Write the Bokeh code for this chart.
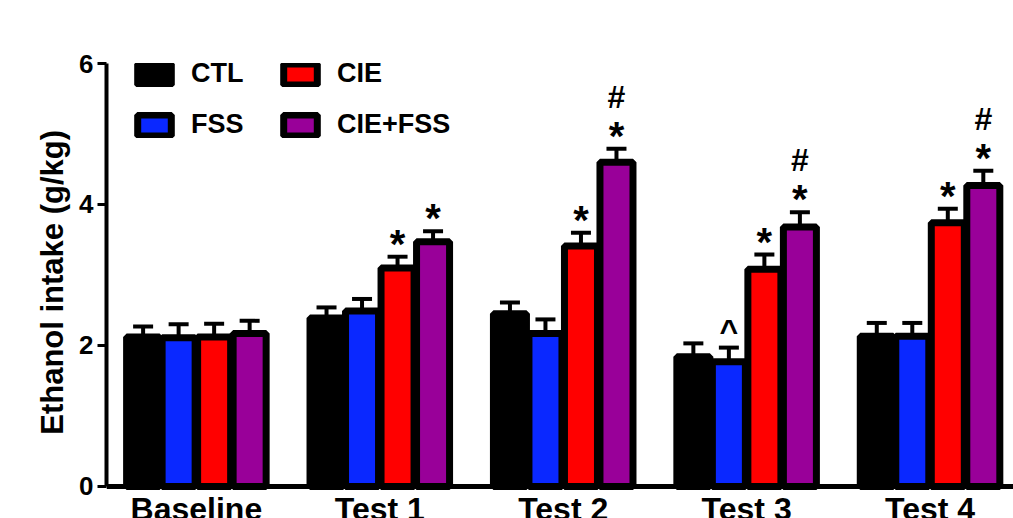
from bokeh.plotting import figure
from bokeh.models import Range1d, FixedTicker, Legend, LegendItem, ColumnDataSource, Span
from bokeh.core.properties import value
from bokeh.embed import file_html
from bokeh.resources import INLINE

# ---------------- data ----------------
categories = ["Baseline", "Test 1", "Test 2", "Test 3", "Test 4"]
series = ["CTL", "FSS", "CIE", "CIE+FSS"]
colors = ["#000000", "#0a28ff", "#ff0000", "#990099"]

ctl = [2.12, 2.39, 2.45, 1.84, 2.13]
fss = [2.11, 2.49, 2.17, 1.77, 2.13]
cie = [2.12, 3.10, 3.41, 3.08, 3.74]
cie_fss = [2.17, 3.47, 4.60, 3.68, 4.27]

ctl_err = [0.15, 0.15, 0.16, 0.19, 0.19]
fss_err = [0.19, 0.17, 0.20, 0.20, 0.19]
cie_err = [0.19, 0.16, 0.19, 0.21, 0.20]
cie_fss_err = [0.18, 0.15, 0.19, 0.21, 0.21]

# significance marks per series (one entry per category)
star = {"CTL": [0, 0, 0, 0, 0], "FSS": [0, 0, 0, 0, 0],
        "CIE": [0, 1, 1, 1, 1], "CIE+FSS": [0, 1, 1, 1, 1]}
hash_mark = {"CTL": [0, 0, 0, 0, 0], "FSS": [0, 0, 0, 0, 0],
             "CIE": [0, 0, 0, 0, 0], "CIE+FSS": [0, 0, 1, 1, 1]}
caret = {"CTL": [0, 0, 0, 0, 0], "FSS": [0, 0, 0, 1, 0],
         "CIE": [0, 0, 0, 0, 0], "CIE+FSS": [0, 0, 0, 0, 0]}

y_ticks = [0, 2, 4, 6]
y_label = "Ethanol intake (g/kg)"

values = [ctl, fss, cie, cie_fss]
errors = [ctl_err, fss_err, cie_err, cie_fss_err]

FONT = "Liberation Sans"
BAR_PITCH = 0.1936
BAR_W = 0.18

p = figure(width=1013, height=518, output_backend="svg", toolbar_location=None,
           x_range=Range1d(-0.49, 4.455), y_range=Range1d(-0.454, 6),
           min_border_left=106, min_border_top=63, min_border_right=0, min_border_bottom=0)
p.outline_line_color = None
p.grid.visible = False
p.background_fill_color = "white"

legend_items = []
for k, name in enumerate(series):
    xs = [i + (k - 1.5) * BAR_PITCH for i in range(len(categories))]
    tops = values[k]
    caps = [t + e for t, e in zip(tops, errors[k])]
    src = ColumnDataSource(dict(x=xs, top=tops, cap=caps))
    p.segment(x0="x", y0="top", x1="x", y1="cap", source=src, line_color="black", line_width=4)
    p.scatter(x="x", y="cap", source=src, marker="dash", size=20, line_color="black", line_width=4)
    r = p.vbar(x="x", top="top", width=BAR_W, bottom=0, source=src,
               fill_color=colors[k], line_color="black", line_width=7)
    legend_items.append(LegendItem(label=name, renderers=[r]))

    sx = [x for x, f in zip(xs, star[name]) if f]
    sy = [c for c, f in zip(caps, star[name]) if f]
    if sx:
        p.text(x=sx, y=sy, text=["*"] * len(sx), text_align="center", text_baseline="alphabetic",
               y_offset=-13, text_font=value(FONT), text_font_style="bold", text_font_size="40px",
               text_color="black")
    hx = [x for x, f in zip(xs, hash_mark[name]) if f]
    hy = [c for c, f in zip(caps, hash_mark[name]) if f]
    if hx:
        p.text(x=hx, y=hy, text=["#"] * len(hx), text_align="center", text_baseline="alphabetic",
               y_offset=-52, text_font=value(FONT), text_font_style="bold", text_font_size="32px",
               text_color="black")
    cx = [x for x, f in zip(xs, caret[name]) if f]
    cy = [c for c, f in zip(caps, caret[name]) if f]
    if cx:
        p.text(x=cx, y=cy, text=["^"] * len(cx), text_align="center", text_baseline="alphabetic",
               y_offset=-17, text_font=value(FONT), text_font_style="bold", text_font_size="32px",
               text_color="black")

# x axis: baseline line + category labels inside the extended frame
p.xaxis.visible = False
p.add_layout(Span(location=0, dimension="width", line_color="black", line_width=5))
p.text(x=list(range(len(categories))), y=[0] * len(categories), text=categories,
       text_align="center", text_baseline="top", y_offset=5, text_font=value(FONT),
       text_font_style="bold", text_font_size="32px", text_color="black")

# y axis
p.yaxis.ticker = FixedTicker(ticks=y_ticks)
p.yaxis.bounds = (0, 6)
p.yaxis.axis_line_width = 4
p.yaxis.major_tick_out = 9
p.yaxis.major_tick_in = 0
p.yaxis.major_tick_line_width = 3
p.yaxis.minor_tick_line_color = None
p.yaxis.major_label_text_font = FONT
p.yaxis.major_label_text_font_style = "bold"
p.yaxis.major_label_text_font_size = "26px"
p.yaxis.major_label_text_color = "black"
p.yaxis.major_label_standoff = 4
p.yaxis.axis_label = "\u00a0\u00a0" + y_label
p.yaxis.axis_label_text_font = FONT
p.yaxis.axis_label_text_font_style = "bold"
p.yaxis.axis_label_text_font_size = "31px"
p.yaxis.axis_label_text_color = "black"
p.yaxis.axis_label_standoff = 6

legend = Legend(items=[legend_items[0], legend_items[1], legend_items[2], legend_items[3]],
                orientation="vertical", nrows=2, location=(27, 378),
                glyph_width=42, glyph_height=26, label_standoff=16, label_width=68,
                label_height=26, spacing=20, padding=0, margin=0,
                border_line_color=None, background_fill_alpha=0,
                label_text_font=FONT, label_text_font_style="bold", label_text_font_size="27px",
                label_text_color="black")
p.add_layout(legend)

open("out.html", "w").write(file_html(p, INLINE))
